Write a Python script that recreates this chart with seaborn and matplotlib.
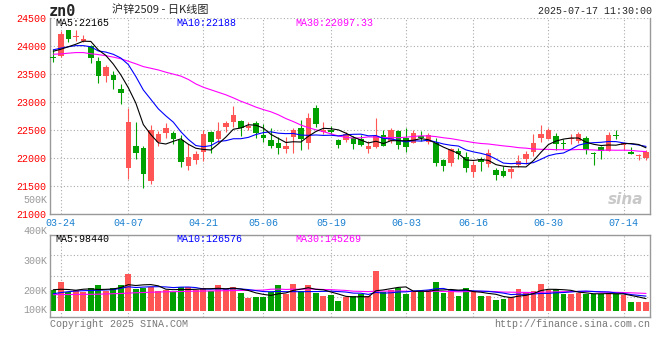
import numpy as np
import pandas as pd
import seaborn as sns
import matplotlib.pyplot as plt

# === Data (zn2509 daily) ===
dates = [
    '03-21', '03-24', '03-25', '03-26', '03-27', '03-28', '03-31', '04-01', '04-02', '04-03',
    '04-07', '04-08', '04-09', '04-10', '04-11', '04-14', '04-15', '04-16', '04-17', '04-18',
    '04-21', '04-22', '04-23', '04-24', '04-25', '04-28', '04-29', '04-30', '05-06', '05-07',
    '05-08', '05-09', '05-12', '05-13', '05-14', '05-15', '05-16', '05-19', '05-20', '05-21',
    '05-22', '05-23', '05-26', '05-27', '05-28', '05-29', '05-30', '06-03', '06-04', '06-05',
    '06-06', '06-09', '06-10', '06-11', '06-12', '06-13', '06-16', '06-17', '06-18', '06-19',
    '06-20', '06-23', '06-24', '06-25', '06-26', '06-27', '06-30', '07-01', '07-02', '07-03',
    '07-04', '07-07', '07-08', '07-09', '07-10', '07-11', '07-14', '07-15', '07-16', '07-17',
]
open_ = [
    23805, 23815, 24292, 24161, 24083, 24006, 23738, 23458, 23488, 23220,
    21816, 22202, 22167, 21583, 22280, 22435, 22435, 22316, 21851, 21958,
    22101, 22464, 22328, 22548, 22637, 22649, 22530, 22613, 22405, 22310,
    22256, 22149, 22363, 22536, 22262, 22893, 22464, 22500, 22316, 22316,
    22357, 22328, 22155, 22185, 22399, 22298, 22470, 22345, 22262, 22387,
    22274, 22268, 21952, 21905, 22119, 22006, 21744, 21970, 21893, 21780,
    21762, 21744, 21869, 21970, 22101, 22357, 22333, 22393, 22262, 22328,
    22298, 22357, 22083, 22185, 22119, 22411, 22232, 22101, 22030, 22000,
]
high = [
    23952, 24262, 24292, 24292, 24190, 24024, 23810, 23667, 23560, 23310,
    22893, 22631, 22214, 22583, 22476, 22613, 22476, 22411, 22238, 22119,
    22488, 22476, 22643, 22655, 22917, 22667, 22631, 22661, 22607, 22536,
    22375, 22375, 22536, 22667, 22798, 22935, 22643, 22571, 22328, 22464,
    22393, 22399, 22298, 22702, 22500, 22536, 22488, 22524, 22488, 22476,
    22441, 22357, 21970, 22179, 22167, 22107, 21940, 22012, 22149, 21821,
    21851, 21851, 22042, 22119, 22417, 22583, 22536, 22441, 22328, 22417,
    22452, 22387, 22101, 22202, 22464, 22488, 22286, 22196, 22060, 22131,
]
low = [
    23714, 23810, 24071, 24083, 24071, 23696, 23333, 23357, 23232, 22964,
    21619, 21976, 21464, 21536, 22214, 22357, 22250, 21833, 21780, 21881,
    21940, 22089, 22268, 22464, 22548, 22387, 22488, 22357, 22286, 22179,
    22060, 22083, 22083, 22131, 22149, 22548, 22417, 22417, 22173, 22286,
    22155, 22202, 22083, 22167, 22208, 22262, 22155, 22101, 22262, 22298,
    22238, 21857, 21762, 21851, 21976, 21744, 21655, 21762, 21833, 21601,
    21655, 21643, 21833, 21893, 22030, 22286, 22328, 22143, 22155, 22250,
    22256, 22060, 21869, 21976, 22119, 22328, 22143, 22060, 21964, 21952,
]
close = [
    23798, 24220, 24119, 24167, 24119, 23780, 23458, 23631, 23387, 23155,
    22631, 22083, 21708, 22488, 22417, 22524, 22328, 21923, 22006, 22060,
    22417, 22280, 22470, 22613, 22762, 22530, 22566, 22435, 22351, 22202,
    22167, 22202, 22500, 22328, 22714, 22595, 22488, 22464, 22226, 22417,
    22244, 22226, 22202, 22381, 22208, 22500, 22226, 22191, 22435, 22351,
    22399, 21905, 21851, 22149, 22071, 21815, 21863, 21929, 22077, 21691,
    21673, 21804, 21940, 22060, 22256, 22417, 22500, 22250, 22238, 22351,
    22417, 22131, 22060, 22125, 22399, 22399, 22268, 22071, 22042, 22101,
]
volume = [
    172000, 241000, 152000, 174000, 152000, 188000, 213000, 160000, 188000, 213000,
    307000, 177000, 188000, 199000, 160000, 168000, 158000, 197000, 197000, 168000,
    188000, 164000, 213000, 177000, 197000, 147000, 105000, 114000, 114000, 155000,
    213000, 141000, 222000, 164000, 213000, 147000, 122000, 130000, 81000, 116000,
    122000, 135000, 122000, 332000, 152000, 174000, 188000, 141000, 152000, 152000,
    172000, 238000, 147000, 172000, 125000, 188000, 160000, 122000, 122000, 89000,
    97000, 116000, 180000, 155000, 164000, 222000, 168000, 177000, 139000, 139000,
    147000, 139000, 139000, 139000, 147000, 139000, 133000, 76000, 76000, 76000,
]

# moving-average values at the left edge (history before the window)
ma5_head = [23905, 23940, 23985, 24030]
ma10_head = [23930, 23960, 23985, 24005, 24005, 23985, 23910, 23890, 23850]
ma30_head = [23851, 23857, 23870, 23881, 23881, 23860, 23845, 23825, 23800, 23770,
             23726, 23680, 23630, 23600, 23570, 23530, 23495, 23460, 23400, 23320,
             23260, 23215, 23170, 23125, 23070, 23010, 22960, 22905, 22860]
vma5_head = [174000, 178000, 176000, 170000]
vma10_head = [141000, 150000, 158000, 163000, 166000, 168000, 170000, 172000, 175000]
vma30_head = [133000, 134000, 134000, 135000, 136000, 136000, 137000, 139000, 141000, 143000,
              146000, 149000, 151000, 153000, 155000, 157000, 158000, 159000, 161000, 162000,
              163000, 164000, 165000, 166000, 167000, 168000, 169000, 170000, 171000]

tick_dates = ['03-24', '04-07', '04-21', '05-06', '05-19', '06-03', '06-16', '06-30', '07-14']
price_ticks = [21000, 21500, 22000, 22500, 23000, 23500, 24000, 24500]
vol_labels = ['400K', '300K', '200K', '100K']

# === Build frame ===
df = pd.DataFrame({'date': dates, 'open': open_, 'high': high, 'low': low,
                   'close': close, 'vol': volume})
df['i'] = np.arange(len(df))


def moving(col, n, head):
    m = df[col].rolling(n).mean()
    m.iloc[:len(head)] = head
    return m


df['ma5'] = moving('close', 5, ma5_head)
df['ma10'] = moving('close', 10, ma10_head)
df['ma30'] = moving('close', 30, ma30_head)
df['vma5'] = moving('vol', 5, vma5_head)
df['vma10'] = moving('vol', 10, vma10_head)
df['vma30'] = moving('vol', 30, vma30_head)

RED, GREEN = '#ff5555', '#00a000'
GRID = '#aaaaaa'
colors = np.where(df['close'] >= df['open'], RED, GREEN)

sns.set_style('white')
plt.rcParams['font.family'] = ['Liberation Mono', 'DejaVu Sans Mono', 'Noto Sans CJK SC']

W, H = 660, 360
fig = plt.figure(figsize=(6.6, 3.6), dpi=100)


def box(l, t, r, b):
    return [l / W, 1 - b / H, (r - l) / W, (b - t) / H]


def px(x, y):
    return x / W, 1 - y / H


ax = fig.add_axes(box(50.5, 18, 650, 213.5))
axv = fig.add_axes(box(50.5, 234.7, 650, 317.3))
tick_pos = [dates.index(d) for d in tick_dates]

# === Price panel ===
ax.vlines(df['i'], df['low'], df['high'], colors=colors, lw=0.8, zorder=2)
body = (df['close'] - df['open']).abs().clip(lower=18)
mid = (df['close'] + df['open']) / 2
ax.bar(df['i'], body, bottom=mid - body / 2, width=0.74, color=colors, lw=0, zorder=3)
for col, c in [('ma30', '#ff00ff'), ('ma10', '#0000ff'), ('ma5', 'black')]:
    sns.lineplot(data=df, x='i', y=col, ax=ax, color=c, lw=0.8, estimator=None,
                 legend=False, zorder=4)

ax.set_xlim(-0.37, 79.53)
ax.set_ylim(21000, 24500)
ax.set_xticks(tick_pos)
ax.set_xticklabels(tick_dates)
ax.set_yticks(price_ticks)
ax.set_yticklabels([str(p) for p in price_ticks])
ax.tick_params(axis='x', length=0, pad=3, labelsize=7.2, labelcolor='#1a80d0')
ax.tick_params(axis='y', length=0, pad=3, labelsize=7.2, labelcolor='red')
ax.set_xlabel('')
ax.set_ylabel('')
ax.grid(True, color=GRID, ls=(0, (1, 2)), lw=0.8)
ax.set_axisbelow(True)

# === Volume panel ===
axv.bar(df['i'], df['vol'], width=0.78, color=colors, lw=0, zorder=2)
for col, c in [('vma30', '#ff00ff'), ('vma10', '#0000ff'), ('vma5', 'black')]:
    sns.lineplot(data=df, x='i', y=col, ax=axv, color=c, lw=0.8, estimator=None,
                 legend=False, zorder=4)
axv.set_xlim(-0.37, 79.53)
axv.set_ylim(-54780, 630800)
axv.set_xticks(tick_pos)
axv.set_xticklabels([])
axv.set_yticks(np.linspace(-54780, 630800, 5))
axv.set_yticklabels([])
axv.tick_params(length=0)
axv.set_xlabel('')
axv.set_ylabel('')
axv.grid(True, color=GRID, ls=(0, (1, 2)), lw=0.8)
axv.set_axisbelow(True)

for a in (ax, axv):
    for s in a.spines.values():
        s.set_color('#999999')
        s.set_linewidth(1.0)
ax.spines['top'].set_visible(False)

# === Texts ===
fs = 7.2
fig.text(*px(49, 12), 'zn0', fontsize=11, fontweight='bold', family='DejaVu Sans Mono',
         va='center', ha='left')
fig.text(*px(160, 10), '沪锌2509 - 日K线图', fontsize=8, family=['Noto Sans CJK SC'],
         va='center', ha='center')
fig.text(*px(652, 11), '2025-07-17 11:30:00', fontsize=fs, va='center', ha='right')

fig.text(*px(55, 23), 'MA5:22165', fontsize=fs, color='black', va='center')
fig.text(*px(176, 23), 'MA10:22188', fontsize=fs, color='#0000ff', va='center')
fig.text(*px(295, 23), 'MA30:22097.33', fontsize=fs, color='#ff00ff', va='center')

fig.text(*px(55, 239), 'MA5:98440', fontsize=fs, color='black', va='center')
fig.text(*px(176, 239), 'MA10:126576', fontsize=fs, color='#0000ff', va='center')
fig.text(*px(295, 239), 'MA30:145269', fontsize=fs, color='#ff00ff', va='center')

fig.text(*px(47, 200), '500K', fontsize=fs, color='#999999', va='center', ha='right')
for lab, y in zip(vol_labels, [230.7, 260.7, 290.7, 310]):
    fig.text(*px(47, y), lab, fontsize=fs, color='#999999', va='center', ha='right')

fig.text(*px(50, 324), 'Copyright 2025 SINA.COM', fontsize=fs, color='#777777', va='center')
fig.text(*px(650, 324), 'http://finance.sina.com.cn', fontsize=fs, color='#777777',
         va='center', ha='right')
fig.text(*px(626, 199), 'sina', fontsize=11, fontstyle='italic', fontweight='bold',
         family='DejaVu Sans', color='#c8c8c8', va='center', ha='center')

fig.savefig('out.png', dpi=100)
